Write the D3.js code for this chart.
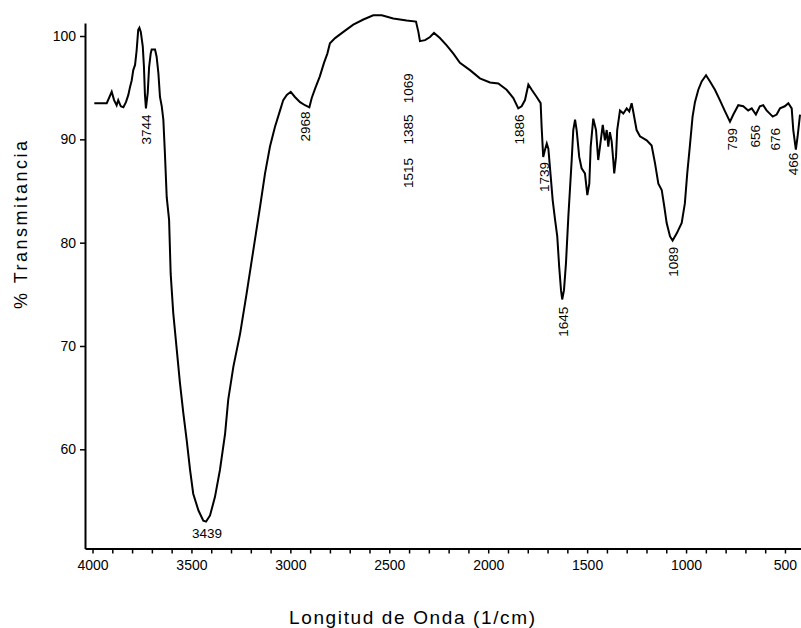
<!DOCTYPE html>
<html>
<head>
<meta charset="utf-8">
<script src="https://cdn.jsdelivr.net/npm/d3@7"></script>
<style>
  html, body { margin: 0; padding: 0; background: #fff; }
  svg { display: block; }
  text { font-family: "Liberation Sans", Arial, sans-serif; fill: #000; }
</style>
</head>
<body>
<svg id="chart" width="801" height="628"></svg>
<script>
// ---- data ----
const wavenumbers = [3991,3928,3903,3891,3878,3870,3857,3844,3831,3819,3810,3802,3794,3785,3777,3769,3763,3756,3746,3740,3735,3730,3721,3714,3706,3701,3684,3676,3667,3659,3650,3642,3634,3625,3613,3605,3592,3574,3558,3541,3524,3507,3491,3465,3440,3426,3406,3381,3356,3330,3314,3288,3254,3221,3187,3153,3128,3103,3078,3052,3036,3018,2998,2977,2951,2926,2904,2892,2875,2851,2830,2813,2800,2774,2732,2682,2631,2581,2538,2480,2412,2365,2353,2345,2319,2294,2274,2244,2210,2176,2143,2092,2042,1991,1949,1907,1873,1848,1831,1814,1797,1780,1755,1735,1730,1722,1713,1704,1696,1691,1684,1674,1662,1651,1641,1632,1626,1617,1607,1595,1587,1578,1570,1561,1553,1540,1528,1511,1499,1489,1482,1469,1455,1444,1435,1421,1410,1401,1393,1385,1376,1368,1363,1354,1348,1334,1317,1300,1287,1275,1267,1250,1233,1199,1174,1157,1140,1123,1110,1098,1081,1068,1047,1022,1006,994,981,967,955,938,921,899,879,854,829,803,778,761,736,711,686,668,647,627,610,593,562,542,525,501,483,466,458,445,436,424];
const transmittance = [93.5,93.5,94.6,93.8,93.3,93.8,93.2,93.1,93.6,94.3,95.1,95.7,96.7,97.2,98.6,100.6,100.8,100.4,99.0,97.0,94.3,93.0,94.5,97.0,98.3,98.7,98.7,98.0,96.4,94.1,93.2,91.9,88.6,84.4,82.2,77.0,73.2,69.6,66.4,63.5,60.9,58.0,55.7,54.1,53.1,53.0,53.6,55.4,58.0,61.5,64.8,68.0,71.2,75.1,79.3,83.5,86.7,89.3,91.2,92.8,93.8,94.3,94.6,94.1,93.6,93.3,93.1,94.0,94.9,96.1,97.4,98.3,99.3,99.8,100.4,101.1,101.6,102.0,102.0,101.7,101.5,101.4,100.4,99.5,99.6,99.9,100.3,99.8,99.1,98.3,97.4,96.7,95.9,95.5,95.4,94.8,94.0,93.0,93.2,93.8,95.3,94.8,94.1,93.5,91.2,88.3,89.0,89.6,89.1,88.0,86.4,84.1,82.2,80.6,77.6,75.4,74.5,75.4,78.0,82.5,85.1,88.0,90.9,91.9,90.9,88.3,87.2,86.7,84.6,85.7,89.3,92.0,90.9,88.0,89.3,91.4,89.9,90.9,89.3,90.7,89.8,88.0,86.7,88.3,90.9,92.8,92.5,93.0,92.7,93.5,92.7,90.9,90.3,89.9,89.4,87.7,85.7,85.1,83.5,81.9,80.6,80.2,80.9,81.9,83.8,86.7,89.3,92.2,93.6,94.8,95.6,96.2,95.6,94.8,93.8,92.7,91.7,92.4,93.3,93.2,92.8,93.0,92.4,93.2,93.3,92.8,92.2,92.4,93.0,93.2,93.5,93.0,90.9,89.0,90.3,92.4];

// peak annotations: text, anchor wavenumber, anchor transmittance (top of the rotated label)
const peakLabels   = ["3744","2968","1069","1385","1515","1886","1739","1645","1089","799","656","676","466"];
const peakLabelWn  = [3727, 2926, 2405, 2405, 2405, 1844, 1718, 1622, 1066, 768, 651, 550, 458];
const peakLabelT   = [92.4, 92.7, 96.4, 92.4, 88.2, 92.4, 87.8, 73.8, 79.6, 91.1, 91.4, 91.1, 88.7];
const minLabel = "3439", minLabelWn = 3421, minLabelT = 51.4;

const xTickValues = d3.range(4000, 499, -100);
const xTickLabels = [4000, 3500, 3000, 2500, 2000, 1500, 1000, 500];
const yTickValues = [60, 70, 80, 90, 100];

const xTitle = "Longitud de Onda (1/cm)";
const yTitle = "% Transmitancia";

// ---- layout ----
const svg = d3.select("#chart");
const x = d3.scaleLinear().domain([4038, 419]).range([85, 801]);
const y = d3.scaleLinear().domain([50.4, 101.26]).range([548.5, 23]);

// axes
const xAxis = d3.axisBottom(x)
  .tickValues(xTickValues)
  .tickSize(5).tickSizeOuter(0).tickPadding(7)
  .tickFormat(d => xTickLabels.includes(d) ? String(d) : "");
const gx = svg.append("g").attr("transform", `translate(0,${y.range()[0]})`).call(xAxis);

const yAxis = d3.axisLeft(y)
  .tickValues(yTickValues)
  .tickSize(5).tickSizeOuter(0).tickPadding(4);
const gy = svg.append("g").attr("transform", `translate(${x.range()[0]},0)`).call(yAxis);

[gx, gy].forEach(g => {
  g.select(".domain").attr("stroke", "#000").attr("stroke-width", 2);
  g.selectAll(".tick line").attr("stroke", "#000").attr("stroke-width", 1.5);
  g.selectAll(".tick text").attr("font-size", 14).attr("fill", "#000")
    .style("font-family", "'Liberation Sans', Arial, sans-serif");
});

// spectrum line
const data = wavenumbers.map((w, i) => ({w, t: transmittance[i]}));
const line = d3.line().x(d => x(d.w)).y(d => y(d.t));
svg.append("path").datum(data)
  .attr("d", line)
  .attr("fill", "none")
  .attr("stroke", "#000")
  .attr("stroke-width", 2)
  .attr("stroke-linejoin", "miter");

// peak labels (rotated, reading bottom to top)
peakLabels.forEach((lbl, i) => {
  const px = x(peakLabelWn[i]), py = y(peakLabelT[i]);
  svg.append("text")
    .attr("transform", `translate(${px},${py}) rotate(-90)`)
    .attr("text-anchor", "end")
    .attr("dy", "0.35em")
    .attr("font-size", 13.5)
    .text(lbl);
});

svg.append("text")
  .attr("x", x(minLabelWn)).attr("y", y(minLabelT))
  .attr("text-anchor", "middle")
  .attr("font-size", 13.5)
  .text(minLabel);

// axis titles
svg.append("text")
  .attr("x", 412).attr("y", 624)
  .attr("text-anchor", "middle")
  .attr("font-size", 19)
  .attr("textLength", 246).attr("lengthAdjust", "spacing")
  .text(xTitle);

svg.append("text")
  .attr("transform", "translate(27,225) rotate(-90)")
  .attr("text-anchor", "middle")
  .attr("font-size", 18)
  .attr("textLength", 168).attr("lengthAdjust", "spacing")
  .text(yTitle);
</script>
</body>
</html>
